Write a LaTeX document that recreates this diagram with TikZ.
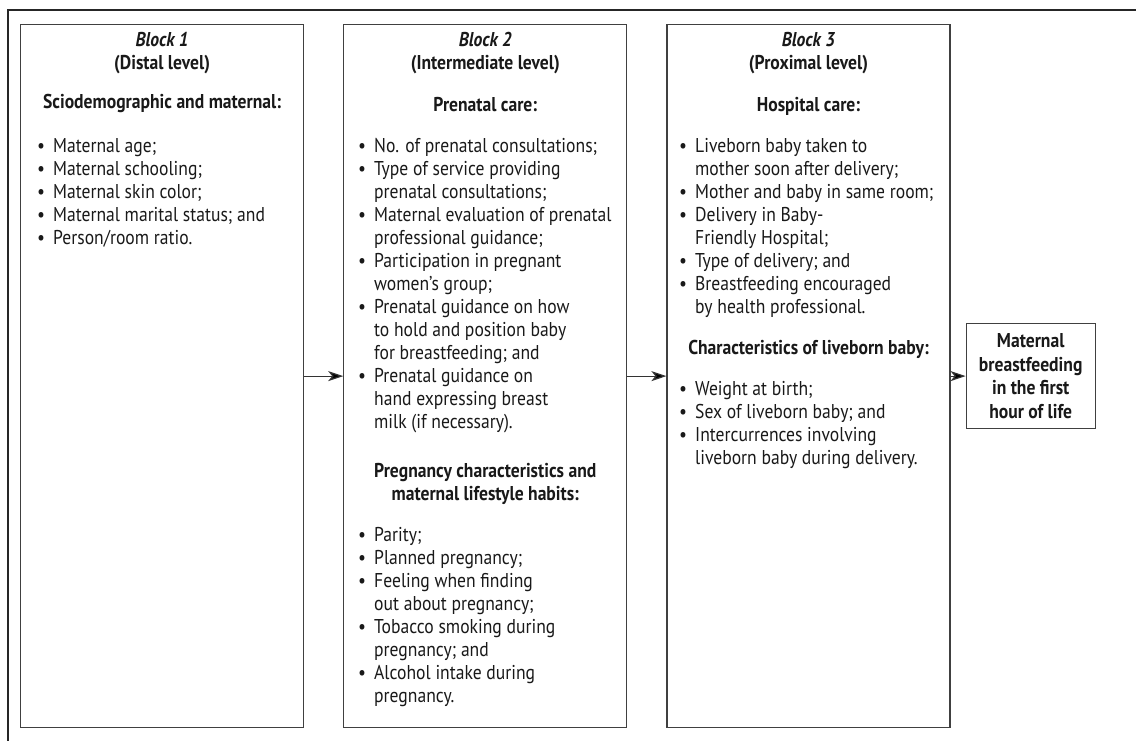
\documentclass[tikz,border=0pt]{standalone}
\usepackage{fontspec}
\setmainfont[FakeStretch=0.88]{PT Sans}
\usetikzlibrary{arrows.meta, positioning}

\newcommand{\bl}{\makebox[16pt][l]{\textbullet}}
\newcommand{\cl}{\hspace*{16pt}}

\begin{document}
\begin{tikzpicture}[
        x=1pt,y=-1pt,>={Stealth[length=15pt,width=10pt,inset=4pt]},
        every node/.style={font=\fontsize{20}{23}\selectfont, inner sep=0pt, text=black!90},
        blockbox/.style={draw=black!75, line width=1.2pt, minimum width=283pt, minimum height=703pt},
        outbox/.style={draw=black!75, line width=1.2pt, minimum width=129pt, minimum height=105pt, align=center, font=\fontsize{20}{23.5}\selectfont\bfseries},
        head/.style={anchor=north, align=center, font=\fontsize{20}{23}\selectfont\bfseries},
        items/.style={anchor=north west, align=left}
        ]
        \useasboundingbox (0,0) rectangle (1136,740);
        \draw[black!85, line width=1.5pt] (8,10) rectangle (1160,770);

        \node[blockbox, anchor=north west] (b1) at (20,24) {};
        \node[blockbox, right=39pt of b1]  (b2) {};
        \node[blockbox, right=39pt of b2]  (b3) {};
        \node[outbox, right=15pt of b3]    (out) {Maternal\\breastfeeding\\in the first\\hour of life};

        \path[->, draw=black!80, line width=1.2pt]
            (b1) edge (b2)
            (b2) edge (b3)
            (b3) edge (out);

        % block 1
        \node[head] (t1) at (b1.north |- 0,32) {\textit{Block 1}\\(Distal level)};
        \node[head] (h1) at (b1.north |- 0,94) {Sciodemographic and maternal:};
        \node[items] (l1) at (37,138) {\bl Maternal age;\\
            \bl Maternal schooling;\\
            \bl Maternal skin color;\\
            \bl Maternal marital status; and\\
            \bl Person/room ratio.};

        % block 2
        \node[head] (t2) at (b2.north |- 0,32) {\textit{Block 2}\\(Intermediate level)};
        \node[head] (h2) at (b2.north |- 0,97) {Prenatal care:};
        \node[items] (l2) at (358,138) {\bl No. of prenatal consultations;\\
            \bl Type of service providing\\
            \cl prenatal consultations;\\
            \bl Maternal evaluation of prenatal\\
            \cl professional guidance;\\
            \bl Participation in pregnant\\
            \cl women’s group;\\
            \bl Prenatal guidance on how\\
            \cl to hold and position baby\\
            \cl for breastfeeding; and\\
            \bl Prenatal guidance on\\
            \cl hand expressing breast\\
            \cl milk (if necessary).};
        \node[head] (h2b) at (b2.north |- 0,463) {Pregnancy characteristics and\\maternal lifestyle habits:};
        \node[items] (l2b) at (358,527) {\bl Parity;\\
            \bl Planned pregnancy;\\
            \bl Feeling when finding\\
            \cl out about pregnancy;\\
            \bl Tobacco smoking during\\
            \cl pregnancy; and\\
            \bl Alcohol intake during\\
            \cl pregnancy.};

        % block 3
        \node[head] (t3) at (b3.north |- 0,32) {\textit{Block 3}\\(Proximal level)};
        \node[head] (h3) at (b3.north |- 0,97) {Hospital care:};
        \node[items] (l3) at (679,138) {\bl Liveborn baby taken to\\
            \cl mother soon after delivery;\\
            \bl Mother and baby in same room;\\
            \bl Delivery in Baby-\\
            \cl Friendly Hospital;\\
            \bl Type of delivery; and\\
            \bl Breastfeeding encouraged\\
            \cl by health professional.};
        \node[head] (h3b) at (b3.north |- 0,340) {Characteristics of liveborn baby:};
        \node[items] (l3b) at (679,381) {\bl Weight at birth;\\
            \bl Sex of liveborn baby; and\\
            \bl Intercurrences involving\\
            \cl liveborn baby during delivery.};
      \end{tikzpicture}
\end{document}
